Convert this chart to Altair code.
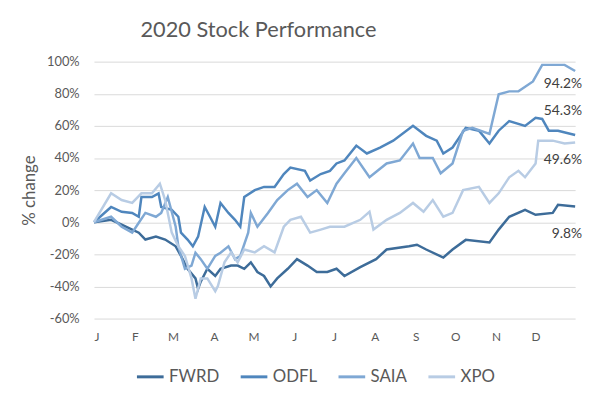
import altair as alt
import pandas as pd

series = ["FWRD", "ODFL", "SAIA", "XPO"]
colors = ["#3d6c99", "#4f86bd", "#7fa8d4", "#b8cce4"]

fwrd_days = [0,13,21,29,34,39,47,54,62,66,71,77,79,81,86,92,96,104,109,114,119,124,129,134,139,147,154,162,169,177,184,190,202,214,222,239,245,252,265,272,282,300,307,315,327,335,348,352,365]
fwrd_vals = [0,1.5,-1.5,-4.6,-6.5,-10.8,-8.9,-10.8,-15,-21,-29,-35,-41.5,-37,-29,-33.5,-29,-27,-27,-29,-25,-31,-33.5,-40,-35,-29,-23,-27,-31,-31,-29,-33.5,-28,-23,-17,-15,-14,-17,-22,-17,-11,-12.6,-4.6,3.4,7.7,4.6,5.8,10.8,9.8]

odfl_days = [0,13,21,29,34,36,44,49,51,59,64,66,71,75,79,84,88,92,96,102,107,111,114,122,129,137,144,149,160,164,172,179,184,190,199,207,217,227,242,252,260,265,272,282,292,300,307,315,327,335,340,345,352,365]
odfl_vals = [0,9.5,6.5,5.8,3.4,15.7,15.7,18,9.5,7.7,3.4,-6.5,-10.8,-15,-9,9.5,3.4,-2.8,12,5.8,1.5,-2.8,15.7,20,22,22,30,34,32,26,30,32,36.6,38.5,47.7,42.8,46.5,50.8,60,53.8,50.8,42.8,46.5,58.8,57,49,57,63,60,65,64.3,57,57,54.3]

saia_days = [0,13,21,29,34,39,47,51,56,62,64,69,74,77,81,86,92,96,102,107,111,117,119,124,132,139,147,154,162,169,177,184,190,199,209,222,232,242,247,257,263,272,280,287,300,307,315,322,333,340,350,357,365]
saia_vals = [0,3.4,-2.8,-6.5,-0.3,5.8,3.4,5.8,15.7,-2.8,-15,-29,-27,-19,-23,-29,-21,-19,-15,-23,-21,-6.5,5.8,-2.8,5.8,13.8,20,24,15.7,20,12,24,30.5,40,28,36.6,38.5,49,40,40,30.5,36.6,57,58.8,55,79.7,81.5,81.5,87.7,98,98,98,94.2]

xpo_days = [0,13,21,29,36,44,50,54,59,64,69,74,77,81,86,92,94,99,104,109,114,122,129,137,144,149,157,164,172,179,184,190,202,209,212,222,232,242,250,257,265,272,280,292,300,307,315,322,327,335,337,348,357,365]
xpo_vals = [0,18,13.8,12,18,18,24,13.8,-6.5,-15,-21,-35,-47.7,-35,-35,-43,-39.7,-25,-18.8,-25,-17,-18.8,-15,-18.8,-2.8,1.5,3.4,-6.5,-4.6,-2.8,-2.8,-2.8,1.5,6.5,-4.6,1.5,5.8,12,6.5,13.8,3.4,5.8,20,22,12,18,28,32,28,36.6,50.8,50.8,49,49.6]

y_ticks = [-60, -40, -20, 0, 20, 40, 60, 80, 100]
title_text = "2020 Stock Performance"
y_title = "% change"

start = pd.Timestamp("2020-01-01")
rows = []
for name, days, vals in [("FWRD", fwrd_days, fwrd_vals), ("ODFL", odfl_days, odfl_vals),
                         ("SAIA", saia_days, saia_vals), ("XPO", xpo_days, xpo_vals)]:
    for d, v in zip(days, vals):
        rows.append({"series": name, "date": (start + pd.Timedelta(days=d)).strftime("%Y-%m-%d"), "value": v})
df = pd.DataFrame(rows)

last = df.groupby("series", sort=False).tail(1).copy()
last["label"] = last["value"].map(lambda v: f"{v}%")

FONT = "Lato"
TXT = "#595959"

x_scale = alt.Scale(domain=[alt.DateTime(year=2020, month=1, date=1),
                            alt.DateTime(year=2020, month=12, date=31)])
y_scale = alt.Scale(domain=[-60, 100], nice=False)

x_enc = alt.X("date:T", scale=x_scale,
              axis=alt.Axis(format="%b", labelExpr="slice(datum.label, 0, 1)",
                            tickCount={"interval": "month", "step": 1},
                            grid=False, domain=False, ticks=False, title=None,
                            labelFont=FONT, labelFontSize=12, labelColor=TXT,
                            labelPadding=13, labelOverlap=False))
y_enc = alt.Y("value:Q", scale=y_scale,
              axis=alt.Axis(values=y_ticks, labelExpr="datum.value + '%'",
                            grid=True, gridColor="#d9d9d9", domain=False, ticks=False,
                            labelOverlap=False,
                            title=y_title, titleFont=FONT, titleFontSize=17,
                            titleColor=TXT, titleFontWeight="normal", titlePadding=8,
                            labelFont=FONT, labelFontSize=13, labelColor=TXT,
                            labelPadding=15))

lines = alt.Chart(df).mark_line(strokeWidth=2.5).encode(
    x=x_enc, y=y_enc,
    color=alt.Color("series:N",
                    scale=alt.Scale(domain=series, range=colors),
                    legend=alt.Legend(orient="none", legendX=42, legendY=304,
                                      direction="horizontal", title=None,
                                      symbolType="stroke", symbolSize=729,
                                      symbolStrokeWidth=3, labelFont=FONT,
                                      labelFontSize=17, labelColor=TXT,
                                      labelOffset=4, columnPadding=15)),
    order=alt.Order("date:T"),
)

label_dy = {"SAIA": 13, "ODFL": -24, "XPO": 18, "FWRD": 28}
texts = []
for s in series:
    texts.append(
        alt.Chart(last[last["series"] == s]).mark_text(
            align="right", baseline="middle", dx=7, dy=label_dy[s],
            font=FONT, fontSize=14, color="#404040"
        ).encode(x=x_enc, y=y_enc, text="label:N")
    )

chart = alt.layer(lines, *texts).properties(
    width=487, height=260,
    title=alt.TitleParams(title_text, font=FONT, fontSize=22, color=TXT,
                          fontWeight="normal", anchor="middle", dx=-77, offset=14),
    autosize=alt.AutoSizeParams(type="none"),
    padding={"left": 87, "top": 52, "right": 12, "bottom": 70},
).configure_view(stroke=None)

chart.save("out.html", embed_options={"renderer": "svg", "actions": False})
